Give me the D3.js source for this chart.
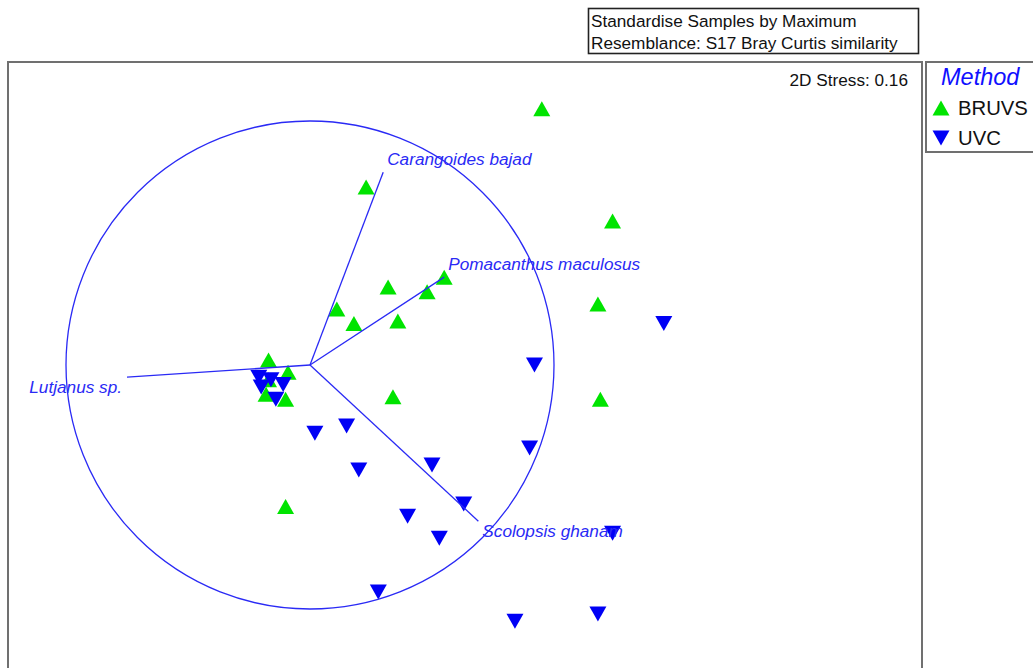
<!DOCTYPE html>
<html>
<head>
<meta charset="utf-8">
<script src="https://cdn.jsdelivr.net/npm/d3@7"></script>
<style>
  html, body { margin: 0; padding: 0; background: #fff; }
  svg { display: block; font-family: "Liberation Sans", Arial, sans-serif; }
</style>
</head>
<body>
<svg id="chart" width="1033" height="668"></svg>
<script>
// nMDS ordination coordinates (unit circle = correlation of 1)
const groups = ["BRUVS", "UVC"];

const bruvsX = [0.95, 1.24, 1.18, 1.19, 0.23, 0.55, 0.48, 0.32, 0.11, 0.18, 0.36, 0.34, -0.10,
                -0.17, -0.09, -0.17, -0.18, -0.10];
const bruvsY = [1.05, 0.59, 0.25, -0.14, 0.73, 0.36, 0.30, 0.32, 0.23, 0.17, 0.18, -0.13, -0.58,
                0.02, -0.03, -0.06, -0.12, -0.14];

const uvcX = [1.45, 0.92, 0.90, 0.02, 0.15, 0.20, 0.50, 0.63, 0.40, 0.53, 1.24, 0.28, 0.84, 1.18,
              -0.21, -0.16, -0.11, -0.20, -0.14];
const uvcY = [0.17, 0.00, -0.34, -0.28, -0.25, -0.43, -0.41, -0.57, -0.62, -0.71, -0.69, -0.93, -1.05, -1.02,
              -0.05, -0.06, -0.08, -0.09, -0.14];

// Pearson correlation vectors of species with the ordination axes
const species = ["Lutjanus sp.", "Carangoides bajad", "Pomacanthus maculosus", "Scolopsis ghanam"];
const vecX = [-0.75, 0.30, 0.55, 0.69];
const vecY = [-0.05, 0.79, 0.36, -0.64];

const headerLines = ["Standardise Samples by Maximum", "Resemblance: S17 Bray Curtis similarity"];
const stressLabel = "2D Stress: 0.16";
const legendTitle = "Method";

const colors = { BRUVS: "#00e400", UVC: "#0000f5" };
const vecColor = "#2a2af5";

const svg = d3.select("#chart");

// Plot frame
const frame = { left: 8, top: 62, right: 922, bottom: 700 };
const cx = 310, cy = 365, r = 244;

const x = d3.scaleLinear().domain([0, 1]).range([cx, cx + r]);
const y = d3.scaleLinear().domain([0, 1]).range([cy, cy - r]);

// Header box
const hb = svg.append("g");
hb.append("rect").attr("x", 588.5).attr("y", 8.5).attr("width", 330).attr("height", 45)
  .attr("fill", "#fff").attr("stroke", "#222").attr("stroke-width", 1.6);
hb.selectAll("text").data(headerLines).join("text")
  .attr("x", 591).attr("y", (d, i) => 27 + i * 22)
  .attr("font-size", 17.2).attr("fill", "#111").text(d => d);

// Frame lines (top, left, right)
svg.append("path")
  .attr("d", `M${frame.left},${frame.bottom} V${frame.top} H${frame.right} V${frame.bottom}`)
  .attr("fill", "none").attr("stroke", "#707070").attr("stroke-width", 2);

svg.append("text").attr("x", 908).attr("y", 86).attr("text-anchor", "end")
  .attr("font-size", 17.2).attr("fill", "#111").text(stressLabel);

// Triangle symbols
const tri = (up) => up
  ? "M0,-7.5 L8.5,7.5 L-8.5,7.5 Z"
  : "M-8.5,-7.5 L8.5,-7.5 L0,7.5 Z";

const pts = svg.append("g");
const bruvs = bruvsX.map((v, i) => ({ x: v, y: bruvsY[i] }));
const uvc = uvcX.map((v, i) => ({ x: v, y: uvcY[i] }));

pts.selectAll(".b").data(bruvs).join("path").attr("class", "b")
  .attr("d", tri(true)).attr("fill", colors.BRUVS)
  .attr("transform", d => `translate(${x(d.x)},${y(d.y)})`);
pts.selectAll(".u").data(uvc).join("path").attr("class", "u")
  .attr("d", tri(false)).attr("fill", colors.UVC)
  .attr("transform", d => `translate(${x(d.x)},${y(d.y)})`);

// Correlation circle and species vectors
const vg = svg.append("g");
vg.append("circle").attr("cx", x(0)).attr("cy", y(0)).attr("r", x(1) - x(0))
  .attr("fill", "none").attr("stroke", vecColor).attr("stroke-width", 1.3);

const vecs = species.map((s, i) => ({ name: s, x: vecX[i], y: vecY[i] }));
vg.selectAll("line").data(vecs).join("line")
  .attr("x1", x(0)).attr("y1", y(0))
  .attr("x2", d => x(d.x)).attr("y2", d => y(d.y))
  .attr("stroke", vecColor).attr("stroke-width", 1.3);

vg.selectAll("text").data(vecs).join("text")
  .attr("x", d => x(d.x) + (d.x < 0 ? -5 : 4))
  .attr("y", d => y(d.y) + (d.y < 0 ? 16 : -7))
  .attr("text-anchor", d => d.x < 0 ? "end" : "start")
  .attr("font-size", 17.2).attr("font-style", "italic").attr("fill", vecColor)
  .text(d => d.name);

// Legend
const lg = svg.append("g");
lg.append("rect").attr("x", 926).attr("y", 62).attr("width", 120).attr("height", 90)
  .attr("fill", "#fff").attr("stroke", "#707070").attr("stroke-width", 2);
lg.append("text").attr("x", 941).attr("y", 85).attr("font-size", 23.5)
  .attr("font-style", "italic").attr("fill", "#1010ff").text(legendTitle);
const li = lg.selectAll("g.item").data(groups).join("g").attr("class", "item")
  .attr("transform", (d, i) => `translate(941,${108 + i * 30})`);
li.append("path").attr("d", (d, i) => tri(i === 0)).attr("fill", d => colors[d]);
li.append("text").attr("x", 17).attr("y", 7).attr("font-size", 20.3)
  .attr("fill", "#111").text(d => d);
</script>
</body>
</html>
